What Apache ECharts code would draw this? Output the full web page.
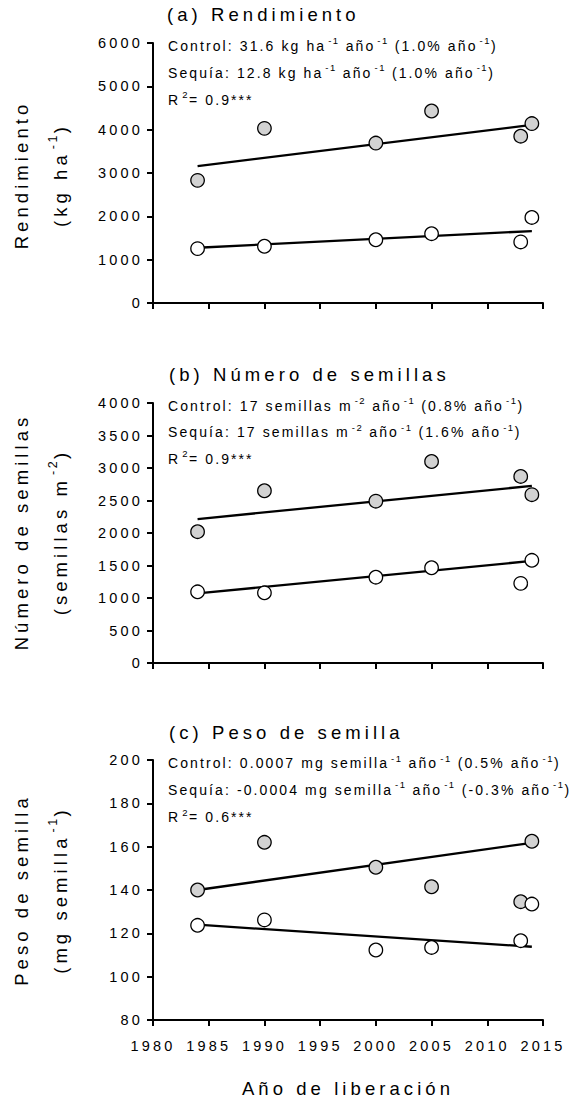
<!DOCTYPE html>
<html>
<head>
<meta charset="utf-8">
<script src="https://cdn.jsdelivr.net/npm/echarts@6/dist/echarts.min.js"></script>
<style>
html, body { margin: 0; padding: 0; background: #fff; }
#main { width: 576px; height: 1104px; }
</style>
</head>
<body>
<div id="main"></div>
<script>
// ---------------- DATA ----------------
const years = [1984, 1990, 2000, 2005, 2013, 2014];
const fitYears = [1984, 2014];

const yieldControl = [2830, 4030, 3690, 4430, 3850, 4140];
const yieldDrought = [1255, 1310, 1460, 1600, 1410, 1975];
const yieldControlFit = [3160, 4110];
const yieldDroughtFit = [1275, 1660];

const seedsControl = [2020, 2650, 2490, 3100, 2870, 2590];
const seedsDrought = [1095, 1080, 1320, 1465, 1225, 1580];
const seedsControlFit = [2215, 2725];
const seedsDroughtFit = [1070, 1570];

const weightControl = [140, 162, 150.5, 141.5, 134.6, 162.5];
const weightDrought = [123.7, 126.2, 112.3, 113.5, 116.6, 133.5];
const weightControlFit = [140, 161.8];
const weightDroughtFit = [124, 113.8];

const xTicks = { min: 1980, max: 2015, interval: 5 };
const yTicks = [
  { min: 0, max: 6000, interval: 1000 },
  { min: 0, max: 4000, interval: 500 },
  { min: 80, max: 200, interval: 20 }
];

const panelTitles = ['(a) Rendimiento', '(b) Número de semillas', '(c) Peso de semilla'];
const yNames1 = ['Rendimiento', 'Número de semillas', 'Peso de semilla'];
const yNames2 = ['(kg ha{s|-1})', '(semillas m{s|-2})', '(mg semilla{s|-1})'];
const xName = 'Año de liberación';
const notes = [
  ['Control: 31.6 kg ha{s|-1} año{s|-1} (1.0% año{s|-1})',
   'Sequía: 12.8 kg ha{s|-1} año{s|-1} (1.0% año{s|-1})',
   'R{s|2}= 0.9***'],
  ['Control: 17 semillas m{s|-2} año{s|-1} (0.8% año{s|-1})',
   'Sequía: 17 semillas m{s|-2} año{s|-1} (1.6% año{s|-1})',
   'R{s|2}= 0.9***'],
  ['Control: 0.0007 mg semilla{s|-1} año{s|-1} (0.5% año{s|-1})',
   'Sequía: -0.0004 mg semilla{s|-1} año{s|-1} (-0.3% año{s|-1})',
   'R{s|2}= 0.6***']
];

// ---------------- TEXT SPACING (letter-spacing per font size) ----------------
const SPACING = { '18.5': 0.22, '14.5': 0.22, '14': 0.15, '9.5': 0.16, '12.5': 0.2 };
(function () {
  let css = '';
  for (const k in SPACING) {
    css += '#main text[style*="' + k + 'px"]{letter-spacing:' + SPACING[k] + 'em}';
  }
  const st = document.createElement('style');
  st.textContent = css;
  document.head.appendChild(st);
  const mctx = document.createElement('canvas').getContext('2d');
  if (echarts.setPlatformAPI) {
    echarts.setPlatformAPI({
      measureText: function (text, font) {
        font = font || '12px sans-serif';
        mctx.font = font;
        const w = mctx.measureText(text).width;
        const m = /([\d.]+)px/.exec(font);
        const fs = m ? parseFloat(m[1]) : 12;
        const sp = SPACING[String(fs)] || 0;
        return { width: w + sp * fs * Array.from(String(text)).length };
      }
    });
  }
})();

// ---------------- LAYOUT ----------------
const FONT = 'Arial';
const GRID_LEFT = 153, GRID_W = 390, GRID_H = 260;
const GRID_TOPS = [43, 403, 760];
const TITLE_Y = [14, 374, 732];
const NOTE_Y = [[46, 72.5, 99.5], [405.7, 432.3, 459], [763.3, 790, 817.3]];
const NAME_Y = [175, 532, 890];

const controlData = [yieldControl, seedsControl, weightControl];
const droughtData = [yieldDrought, seedsDrought, weightDrought];
const controlFit = [yieldControlFit, seedsControlFit, weightControlFit];
const droughtFit = [yieldDroughtFit, seedsDroughtFit, weightDroughtFit];

const pairs = (xs, ys) => xs.map((x, k) => [x, ys[k]]);

const grid = [], xAxis = [], yAxis = [], series = [], graphic = [];
const axisLineStyle = { color: '#000', width: 2 };

for (let i = 0; i < 3; i++) {
  grid.push({ left: GRID_LEFT, top: GRID_TOPS[i], width: GRID_W, height: GRID_H,
              containLabel: false, outerBoundsMode: 'none' });
  xAxis.push({
    type: 'value', gridIndex: i, min: xTicks.min, max: xTicks.max, interval: xTicks.interval,
    axisLine: { show: true, onZero: false, lineStyle: axisLineStyle },
    axisTick: { show: true, inside: false, length: 6, lineStyle: axisLineStyle },
    splitLine: { show: false },
    axisLabel: { show: i === 2, margin: 17, fontSize: 14.5, fontFamily: FONT, color: '#000',
                 formatter: v => String(v) }
  });
  yAxis.push({
    type: 'value', gridIndex: i, min: yTicks[i].min, max: yTicks[i].max, interval: yTicks[i].interval,
    axisLine: { show: true, onZero: false, lineStyle: axisLineStyle },
    axisTick: { show: true, inside: false, length: 6, lineStyle: axisLineStyle },
    splitLine: { show: false },
    axisLabel: { show: true, margin: 10, fontSize: 14.5, fontFamily: FONT, color: '#000',
                 formatter: v => String(v) }
  });
  const lineCommon = { type: 'line', xAxisIndex: i, yAxisIndex: i, symbol: 'none', silent: true,
                       lineStyle: { color: '#000', width: 2.3 }, z: 2 };
  series.push(Object.assign({ name: 'fitC' + i, data: pairs(fitYears, controlFit[i]) }, lineCommon));
  series.push(Object.assign({ name: 'fitD' + i, data: pairs(fitYears, droughtFit[i]) }, lineCommon));
  series.push({ type: 'scatter', name: 'Control' + i, xAxisIndex: i, yAxisIndex: i, z: 3,
    symbol: 'circle', symbolSize: 13.5, data: pairs(years, controlData[i]),
    itemStyle: { color: '#d2d2d2', borderColor: '#000', borderWidth: 1.3, opacity: 1 } });
  series.push({ type: 'scatter', name: 'Sequia' + i, xAxisIndex: i, yAxisIndex: i, z: 3,
    symbol: 'circle', symbolSize: 13.5, data: pairs(years, droughtData[i]),
    itemStyle: { color: '#ffffff', borderColor: '#000', borderWidth: 1.3, opacity: 1 } });

  // panel title
  graphic.push({ type: 'text', x: i === 0 ? 167 : 169, y: TITLE_Y[i], silent: true,
    style: { text: panelTitles[i], fontSize: 18.5, fontFamily: FONT, fill: '#000',
             align: 'left', verticalAlign: 'middle' } });
  // annotations
  for (let j = 0; j < 3; j++) {
    graphic.push({ type: 'text', x: 168, y: NOTE_Y[i][j], silent: true,
      style: { text: notes[i][j], fontSize: 14, fontFamily: FONT, fill: '#000', lineHeight: 22,
               align: 'left', verticalAlign: 'middle',
               rich: { s: { fontSize: 9.5, fontFamily: FONT, fill: '#000', lineHeight: 10,
                            verticalAlign: 'top', padding: [0, 0, 0, 2] } } } });
  }
  // y-axis names (two lines, rotated)
  graphic.push({ type: 'text', x: 21, y: NAME_Y[i], rotation: Math.PI / 2, silent: true,
    style: { text: yNames1[i], fontSize: 18.5, fontFamily: FONT, fill: '#000',
             align: 'center', verticalAlign: 'middle' } });
  graphic.push({ type: 'text', x: 60, y: NAME_Y[i], rotation: Math.PI / 2, silent: true,
    style: { text: yNames2[i], fontSize: 18.5, fontFamily: FONT, fill: '#000', lineHeight: 30,
             align: 'center', verticalAlign: 'middle',
             rich: { s: { fontSize: 12.5, fontFamily: FONT, fill: '#000', lineHeight: 12,
                          verticalAlign: 'top', padding: [0, 0, 0, 2] } } } });
}
graphic.push({ type: 'text', x: GRID_LEFT + GRID_W / 2, y: 1088, silent: true,
  style: { text: xName, fontSize: 18.5, fontFamily: FONT, fill: '#000',
           align: 'center', verticalAlign: 'middle' } });

const chart = echarts.init(document.getElementById('main'), null, { renderer: 'svg' });
chart.setOption({
  animation: false,
  backgroundColor: '#fff',
  grid, xAxis, yAxis, series, graphic
});
</script>
</body>
</html>
